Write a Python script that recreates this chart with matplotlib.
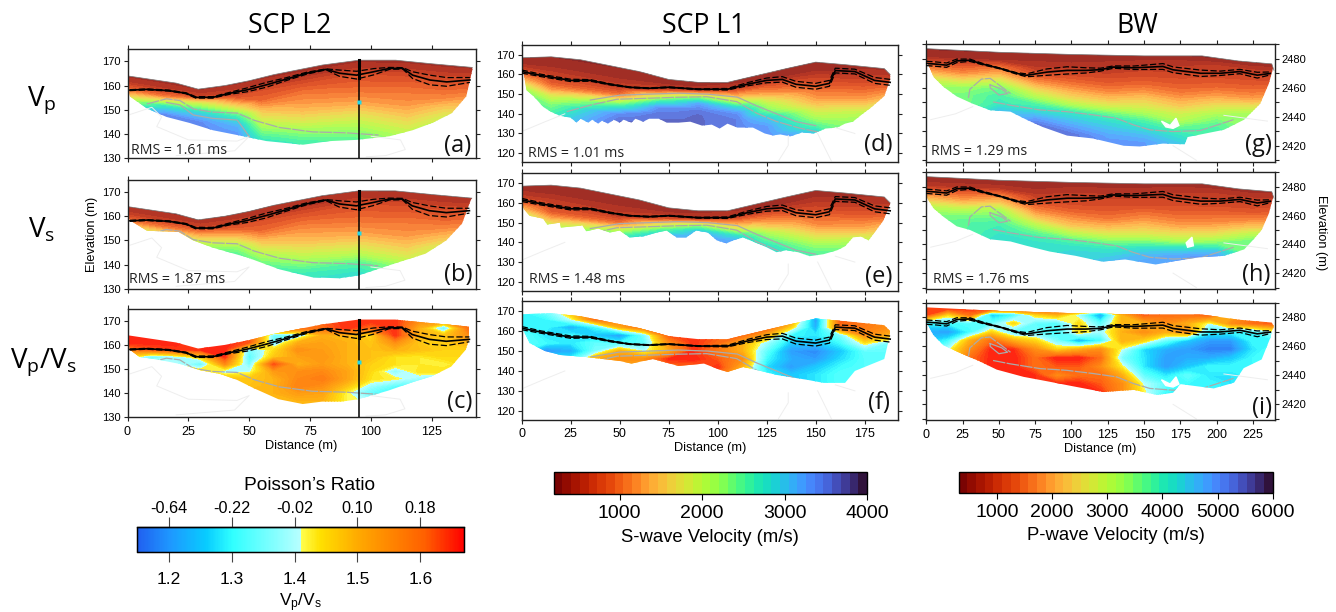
import numpy as np
import matplotlib
matplotlib.use('Agg')
import matplotlib.pyplot as plt
from matplotlib.cm import ScalarMappable
from matplotlib.colors import LinearSegmentedColormap, ListedColormap, Normalize
from matplotlib.patches import Polygon

W, H = 1336, 612
plt.rcParams['font.family'] = ['Liberation Sans', 'DejaVu Sans']
plt.rcParams['mathtext.default'] = 'regular'
LABEL_FONT = 'Open Sans'

# ---- SCP L2 ----
l2_xticks = [0, 25, 50, 75, 100, 125]
l2_yticks = [130, 140, 150, 160, 170]
l2_top_x = [0, 10, 20, 29, 40, 50, 60, 70, 80, 95, 110, 125, 141.5]
l2_top_y = [164, 162.5, 161, 158.5, 160, 162, 164.5, 166.5, 168.5, 170.5, 170.5, 169, 167.5]
a_bot_x = [141.5, 139, 133, 125, 117, 107.5, 94, 83, 72, 57, 45, 35, 25.5, 16, 8, 1, 0]
a_bot_y = [166.5, 155.5, 148.5, 144.5, 141.5, 139, 137.5, 137, 135.5, 137, 139.5, 141.5, 144.5, 147, 150.5, 155.5, 160]
b_bot_x = [141, 137.5, 131, 122.5, 110, 95, 87, 76, 62.5, 49, 35, 27, 21, 8, 1, 0]
b_bot_y = [166.5, 157, 150, 144.5, 140.5, 135.5, 134.3, 134.7, 138, 143, 147, 150, 153.5, 154, 158.3, 160]
c_bot_x = [141.5, 139, 133, 125, 117, 107, 95, 88, 80, 72, 62, 52, 45, 38, 30, 22, 12, 5, 1, 0]
c_bot_y = [166, 158, 151, 147, 144.5, 141, 137.5, 136.5, 136.5, 135.5, 137.5, 142, 145.5, 148, 149.5, 152, 154, 155, 158, 163]
l2_cols = [0, 15, 30, 45, 55, 72, 95, 115, 130, 142]
l2_surf = [164, 161.5, 158.5, 161, 163.5, 167, 170.5, 170, 168.5, 167.5]
l2_depth = [0, 3, 6, 10, 14, 18, 22, 26, 30, 36]
a_vel = [
    [550, 550, 550, 550, 550, 550, 550, 550, 550, 550],
    [800, 800, 900, 800, 750, 700, 750, 750, 750, 800],
    [1500, 1500, 2800, 1150, 1100, 1050, 1100, 1050, 1050, 1150],
    [3000, 4000, 4300, 2500, 1400, 1500, 1300, 1350, 1350, 1500],
    [4200, 5200, 5100, 3900, 2200, 1800, 1600, 1600, 1700, 2000],
    [4500, 5200, 5200, 4700, 2800, 2200, 1950, 1800, 2300, 2500],
    [4500, 5200, 5200, 5000, 3400, 2700, 2500, 2200, 2800, 3000],
    [4500, 5200, 5200, 5000, 4000, 3300, 2950, 2600, 3200, 3200],
    [4500, 5200, 5200, 5000, 4400, 3800, 3400, 3000, 3400, 3400],
    [4500, 5200, 5200, 5000, 4800, 4200, 4000, 3500, 3600, 3600],
]
b_vel = [
    [400, 400, 400, 400, 400, 400, 400, 400, 400, 400],
    [550, 550, 600, 550, 520, 480, 520, 520, 520, 550],
    [1000, 1000, 1200, 800, 750, 720, 750, 720, 720, 800],
    [1900, 2100, 2000, 1500, 950, 1000, 880, 900, 900, 1000],
    [2400, 2600, 2600, 2200, 1450, 1250, 1080, 1080, 1150, 1350],
    [2500, 2700, 2800, 2600, 1900, 1500, 1300, 1200, 1500, 1700],
    [2500, 2700, 2800, 2800, 2300, 1850, 1650, 1480, 1900, 2000],
    [2500, 2700, 2800, 2900, 2650, 2200, 2000, 1750, 2100, 2100],
    [2500, 2700, 2900, 3000, 2800, 2600, 2500, 2100, 2200, 2200],
    [2500, 2700, 2900, 3000, 3000, 2850, 2900, 2500, 2400, 2400],
]
c_cols = [0, 10, 20, 30, 40, 50, 60, 70, 80, 90, 100, 110, 120, 130, 140]
c_elev = [172, 170, 167, 164, 161, 158, 155, 152, 149, 146, 143, 140, 137, 134]
c_ratio = [
    [1.60, 1.60, 1.60, 1.60, 1.60, 1.60, 1.60, 1.60, 1.62, 1.65, 1.65, 1.65, 1.55, 1.55, 1.60],
    [1.60, 1.60, 1.60, 1.60, 1.60, 1.60, 1.60, 1.60, 1.62, 1.65, 1.65, 1.65, 1.55, 1.55, 1.60],
    [1.62, 1.62, 1.62, 1.62, 1.62, 1.62, 1.62, 1.60, 1.60, 1.65, 1.60, 1.65, 1.50, 1.33, 1.60],
    [1.66, 1.66, 1.66, 1.64, 1.64, 1.64, 1.35, 1.35, 1.50, 1.50, 1.45, 1.65, 1.50, 1.47, 1.55],
    [1.66, 1.66, 1.66, 1.62, 1.66, 1.62, 1.35, 1.50, 1.52, 1.50, 1.47, 1.55, 1.47, 1.47, 1.50],
    [1.58, 1.62, 1.64, 1.65, 1.66, 1.35, 1.44, 1.55, 1.53, 1.50, 1.48, 1.50, 1.48, 1.46, 1.46],
    [1.45, 1.33, 1.38, 1.45, 1.65, 1.32, 1.47, 1.52, 1.54, 1.50, 1.48, 1.44, 1.43, 1.45, 1.45],
    [1.45, 1.45, 1.40, 1.33, 1.55, 1.35, 1.63, 1.50, 1.53, 1.50, 1.46, 1.44, 1.43, 1.42, 1.45],
    [1.45, 1.45, 1.50, 1.45, 1.38, 1.40, 1.53, 1.55, 1.56, 1.52, 1.45, 1.37, 1.44, 1.44, 1.45],
    [1.45, 1.45, 1.50, 1.48, 1.48, 1.47, 1.50, 1.56, 1.58, 1.52, 1.44, 1.42, 1.38, 1.33, 1.40],
    [1.45, 1.45, 1.50, 1.48, 1.48, 1.48, 1.50, 1.57, 1.55, 1.48, 1.38, 1.33, 1.32, 1.35, 1.40],
    [1.45, 1.45, 1.50, 1.48, 1.48, 1.50, 1.50, 1.53, 1.52, 1.42, 1.33, 1.33, 1.35, 1.35, 1.40],
    [1.45, 1.45, 1.50, 1.48, 1.48, 1.50, 1.50, 1.50, 1.50, 1.42, 1.40, 1.35, 1.35, 1.35, 1.40],
    [1.45, 1.45, 1.50, 1.48, 1.48, 1.50, 1.50, 1.50, 1.50, 1.42, 1.40, 1.35, 1.35, 1.35, 1.40],
]
l2_line_x = [1, 8, 17, 24, 28, 35, 42, 49, 57, 65, 73.5, 81.5, 87, 94, 101, 107.5, 113, 117, 124, 131, 140.5]
l2_line_y = [158.1, 158.4, 157.9, 156.8, 155.1, 155.1, 156.8, 158.2, 160.3, 162.6, 165.1, 166.7, 165.1, 164.3, 165.7, 167.1, 167.1, 164.3, 162.3, 161.5, 162.3]
l2_spread = [0.2, 0.2, 0.2, 0.2, 0.3, 0.3, 0.4, 0.8, 1, 0.6, 0.4, 0.2, 1.3, 1.6, 1.3, 0.4, 0.3, 1.4, 2, 1.8, 1]
l2_grey1_x = [8, 16, 21.5, 27, 35, 45, 52, 62.5, 76, 90, 103]
l2_grey1_y = [152.4, 154.5, 153.8, 150.3, 149, 148.6, 145.6, 142.6, 140.8, 140.4, 139.5]
l2_grey2_x = [16, 21.5, 27, 35, 45, 47.5, 50]
l2_grey2_y = [153, 152, 147.8, 146.4, 145.7, 142.3, 138.8]
l2_faint_x = [1, 10, 14, 12, 25, 45, 50, 44, 20, None, 100, 112, 114, 106, 98]
l2_faint_y = [148, 151, 147, 143, 137.5, 137, 139, 133, 131, None, 139, 137.5, 133.5, 131, 130.5]
l2_well = 95
l2_well_top = 170.5
l2_well_mid = 163
l2_marker = 153

# ---- SCP L1 ----
l1_xticks = [0, 25, 50, 75, 100, 125, 150, 175]
l1_yticks = [120, 130, 140, 150, 160, 170]
l1_top_x = [0, 15, 30, 45, 60, 75, 90, 105, 120, 135, 150, 165, 185, 188]
l1_top_y = [168.5, 169, 167.5, 164.5, 161.5, 157.5, 156, 156, 159.5, 163, 166.3, 165, 163, 160]
d_bot_x = [188, 185, 178, 174, 169, 165, 161, 155, 149, 143, 137, 132, 128, 124, 118, 110, 105, 101, 97, 92, 86, 80, 74, 70, 65, 62, 58, 56, 52, 50, 47, 44, 41, 39, 36, 34, 30, 28, 25, 19.5, 15, 11, 6, 2.5, 1, 0]
d_bot_y = [157.5, 149, 143, 140, 136, 135, 133, 132.5, 130, 130.5, 128.5, 129.5, 129, 130, 133, 133, 135, 132.5, 134.5, 134, 136, 135.5, 135.5, 137.5, 137.5, 136, 137.5, 135.5, 137, 135.5, 137, 135, 136.5, 135, 137, 135.5, 137.5, 135.5, 138, 139, 141, 143.5, 149, 152, 160.5, 165]
e_bot_x = [188, 184.5, 177, 173, 169, 165, 161, 154, 147, 141, 135, 130, 125, 119, 113, 108, 104.5, 99.5, 95, 89, 84, 79, 74, 69, 62, 55, 50, 45, 39, 33, 31, 25, 20, 19.5, 13, 11, 4, 1, 0]
e_bot_y = [159.5, 151, 141, 143, 142.5, 138, 136, 134, 133, 135, 136, 135, 137.5, 140, 142.5, 141, 139.5, 141, 145, 146, 142.5, 142.5, 146, 145, 143, 142.5, 146, 145, 147, 145.6, 148.5, 148, 147.5, 150, 149, 152, 153.5, 157, 160]
f_bot_x = [187.5, 185, 170, 165, 158, 154, 146, 130, 122, 113, 105, 100, 93, 80, 67, 56, 50, 33, 20, 12, 4, 1, 0]
f_bot_y = [156.5, 146, 140, 134, 134, 134, 135.5, 138, 140, 142, 139.5, 141, 143.7, 142.5, 146, 143.7, 145, 147, 148, 150, 154, 160, 163]
l1_cols = [0, 15, 50, 70, 90, 110, 125, 150, 175, 188]
l1_surf = [168.5, 169, 163.5, 160, 156, 157, 161.5, 166.3, 164, 162]
l1_depth = [0, 4, 8, 11, 14, 17, 20, 24, 28, 32, 38]
d_vel = [
    [450, 450, 450, 450, 450, 450, 450, 450, 550, 600],
    [650, 520, 500, 520, 750, 850, 550, 560, 750, 850],
    [1250, 800, 750, 1050, 3500, 2000, 1300, 900, 1050, 1300],
    [2000, 1050, 950, 2700, 4800, 3000, 1800, 1150, 1300, 1700],
    [2800, 1300, 1500, 4000, 5200, 4300, 2500, 1450, 1600, 2100],
    [3500, 1900, 2900, 5000, 5400, 5000, 3100, 1700, 1900, 2600],
    [3900, 2700, 4000, 5300, 5400, 5200, 3500, 2000, 2400, 3000],
    [4000, 3400, 5100, 5400, 5400, 5200, 4500, 2600, 3000, 3300],
    [4200, 3800, 5400, 5400, 5400, 5200, 4900, 3100, 3300, 3300],
    [4400, 4200, 5400, 5400, 5400, 5200, 5000, 3700, 3400, 3400],
    [4400, 4400, 5400, 5400, 5400, 5200, 5000, 4700, 3400, 3400],
]
e_vel = [
    [350, 350, 350, 350, 350, 350, 350, 350, 380, 420],
    [450, 380, 370, 380, 500, 550, 400, 420, 500, 560],
    [800, 550, 500, 680, 2300, 1300, 850, 600, 700, 850],
    [1300, 700, 620, 1700, 3100, 2000, 1200, 780, 860, 1100],
    [1800, 850, 1000, 2500, 3300, 2800, 1600, 960, 1100, 1400],
    [2300, 1300, 1900, 3100, 3400, 3200, 2100, 1100, 1300, 1700],
    [2500, 1800, 2500, 3300, 3400, 3300, 2400, 1400, 1650, 2000],
    [2600, 2300, 3000, 3400, 3400, 3300, 2800, 1800, 2100, 2200],
    [2600, 2500, 3200, 3400, 3400, 3300, 3000, 2200, 2400, 2400],
    [2600, 2600, 3200, 3400, 3400, 3300, 3100, 2500, 2500, 2500],
    [2600, 2600, 3200, 3400, 3400, 3300, 3100, 2800, 2500, 2500],
]
f_cols = [0, 12.5, 25, 37.5, 50, 62.5, 75, 87.5, 100, 112.5, 125, 137.5, 150, 162.5, 175, 187.5]
f_elev = [172, 170, 166, 162, 158, 154, 150, 146, 142, 138, 134, 130]
f_ratio = [
    [1.30, 1.30, 1.50, 1.60, 1.60, 1.60, 1.60, 1.60, 1.60, 1.60, 1.60, 1.60, 1.60, 1.60, 1.60, 1.55],
    [1.30, 1.35, 1.50, 1.60, 1.60, 1.60, 1.60, 1.60, 1.60, 1.60, 1.60, 1.60, 1.60, 1.60, 1.60, 1.55],
    [1.30, 1.30, 1.40, 1.60, 1.60, 1.60, 1.60, 1.60, 1.60, 1.60, 1.60, 1.55, 1.20, 1.62, 1.60, 1.55],
    [1.30, 1.30, 1.22, 1.30, 1.50, 1.60, 1.60, 1.65, 1.60, 1.60, 1.62, 1.45, 1.22, 1.60, 1.58, 1.55],
    [1.33, 1.28, 1.30, 1.25, 1.20, 1.35, 1.62, 1.65, 1.62, 1.60, 1.50, 1.30, 1.28, 1.35, 1.55, 1.50],
    [1.33, 1.30, 1.28, 1.33, 1.30, 1.33, 1.55, 1.65, 1.60, 1.50, 1.38, 1.25, 1.25, 1.30, 1.43, 1.35],
    [1.30, 1.18, 1.22, 1.35, 1.50, 1.40, 1.50, 1.65, 1.58, 1.50, 1.33, 1.20, 1.18, 1.25, 1.33, 1.33],
    [1.30, 1.30, 1.30, 1.50, 1.55, 1.55, 1.65, 1.66, 1.62, 1.55, 1.30, 1.22, 1.20, 1.27, 1.32, 1.33],
    [1.30, 1.30, 1.30, 1.50, 1.50, 1.50, 1.60, 1.60, 1.65, 1.50, 1.27, 1.20, 1.25, 1.30, 1.32, 1.33],
    [1.30, 1.30, 1.30, 1.50, 1.50, 1.50, 1.60, 1.60, 1.60, 1.45, 1.30, 1.25, 1.28, 1.32, 1.32, 1.33],
    [1.30, 1.30, 1.30, 1.50, 1.50, 1.50, 1.60, 1.60, 1.60, 1.45, 1.30, 1.25, 1.28, 1.32, 1.32, 1.33],
    [1.30, 1.30, 1.30, 1.50, 1.50, 1.50, 1.60, 1.60, 1.60, 1.45, 1.30, 1.25, 1.28, 1.32, 1.32, 1.33],
]
l1_line_x = [0, 10, 25, 35, 45, 55, 65, 75, 90, 105, 115, 125, 133, 140, 150, 157, 160, 170, 180, 188]
l1_line_y = [161.5, 159.5, 157, 157, 155, 153.5, 153, 153.5, 152.5, 152.5, 155, 157, 157.5, 155, 154, 155.5, 162, 161.5, 157, 156]
l1_spread = [0.8, 0.6, 0.6, 0.4, 0.3, 0.2, 0.2, 0.2, 0.2, 0.4, 0.8, 1.2, 1.4, 1.5, 1.5, 1.5, 1.2, 1.2, 1.5, 1.5]
l1_grey1_x = [23, 35.4, 48.5, 63.8, 79, 94.4, 109.7, 119.9, 130, 142, 153.9]
l1_grey1_y = [141.1, 144.5, 147.4, 147.9, 148.4, 148.7, 146.2, 140.3, 136.1, 132.7, 130.2]
l1_grey2_x = [35, 50, 65, 80, 95, 110, 120, 130, 140, 150]
l1_grey2_y = [147, 149.5, 150, 150.5, 150, 148.5, 144, 140, 136, 134]
l1_faint_x = [0, 12, 22, None, 136, 136, 131, None, 151, 155, 158, None, 160, 170]
l1_faint_y = [131, 136, 140, None, 129, 124, 116, None, 130, 122, 116, None, 133, 130]

# ---- BW ----
bw_xticks = [0, 25, 50, 75, 100, 125, 150, 175, 200, 225]
bw_yticks = [2410, 2420, 2430, 2440, 2450, 2460, 2470, 2480, 2490]
bw_ylabels = ['', '2420', '', '2440', '', '2460', '', '2480', '']
bw_top_x = [0, 50, 100, 150, 190, 215, 238, 239.5]
bw_top_y = [2487, 2484.5, 2483, 2482, 2482, 2478.5, 2476.5, 2472]
g_bot_x = [239, 236, 230, 219, 205, 180, 178, 163, 147, 136, 115, 97, 80, 69, 58, 44, 32, 21, 12, 5, 0]
g_bot_y = [2474, 2463, 2449, 2438, 2431, 2426, 2421, 2421.5, 2419.5, 2420, 2425, 2427, 2433, 2438, 2443.5, 2444.5, 2449, 2454, 2460.5, 2467.5, 2479]
h_bot_x = [239, 236, 231, 225, 219, 205, 188, 172, 158, 137, 121, 103, 85, 69, 58, 44, 30, 21, 12, 5, 0]
h_bot_y = [2473, 2461.5, 2450, 2443, 2436.5, 2432, 2431, 2428.5, 2426, 2429.5, 2428, 2432, 2435, 2439, 2442, 2443.5, 2450, 2452.5, 2459, 2465, 2473]
i_bot_x = [239, 237, 231, 218.6, 212, 198, 175, 170, 159, 143, 122, 101, 83, 67, 48.5, 37, 21, 11.7, 4.8, 0]
i_bot_y = [2475, 2466, 2451, 2445, 2435, 2431, 2434, 2428, 2426.5, 2430, 2428.5, 2432.5, 2436, 2439, 2444, 2449.6, 2456.5, 2461, 2468, 2477]
g_hole_x = [162, 168, 172, 174, 170, 165]
g_hole_y = [2437, 2434, 2439, 2434, 2432, 2433]
h_hole_x = [179, 183, 184, 180]
h_hole_y = [2441, 2445, 2439, 2438]
bw_cols = [0, 25, 50, 75, 100, 125, 150, 175, 200, 225, 240]
bw_surf = [2486, 2485, 2484, 2483.5, 2482.5, 2482, 2482, 2482, 2480, 2477, 2476]
bw_depth = [0, 5, 10, 15, 20, 25, 30, 35, 40, 45, 50, 55, 60, 70]
g_vel = [
    [450, 450, 450, 450, 450, 450, 450, 450, 450, 450, 500],
    [600, 600, 600, 600, 600, 650, 700, 700, 800, 800, 800],
    [1300, 1200, 1500, 800, 800, 800, 900, 850, 950, 1000, 1000],
    [2000, 1700, 2100, 1200, 1100, 1050, 1100, 1050, 1150, 1200, 1300],
    [2800, 2500, 2900, 1800, 1500, 1300, 1400, 1250, 1400, 1500, 1700],
    [3300, 3300, 3600, 2500, 2000, 1700, 1800, 1500, 1800, 1900, 2200],
    [3500, 3500, 3900, 3100, 2500, 2200, 2300, 1900, 2300, 2600, 2800],
    [3500, 3500, 4000, 3800, 3200, 2800, 2700, 2300, 2800, 3200, 3200],
    [3500, 3500, 4500, 4300, 4100, 3600, 3200, 2800, 3300, 3400, 3400],
    [3500, 3500, 4700, 4900, 4500, 4200, 3800, 3100, 3700, 3400, 3400],
    [3500, 3500, 4800, 5400, 4900, 4500, 4200, 3700, 3900, 3400, 3400],
    [3500, 3500, 4800, 5400, 5300, 4800, 4600, 4100, 3900, 3400, 3400],
    [3500, 3500, 4800, 5400, 5300, 5000, 4900, 4400, 3900, 3400, 3400],
    [3500, 3500, 4800, 5400, 5300, 5000, 5000, 4500, 3900, 3400, 3400],
]
h_vel = [
    [350, 350, 350, 350, 350, 350, 350, 350, 350, 350, 380],
    [450, 450, 450, 400, 450, 450, 450, 480, 520, 520, 550],
    [1000, 900, 1050, 550, 600, 600, 600, 600, 600, 650, 700],
    [1500, 1300, 1500, 800, 700, 700, 700, 700, 750, 800, 900],
    [2000, 1900, 2100, 1100, 900, 850, 950, 850, 950, 1100, 1200],
    [2300, 2300, 2400, 1500, 1200, 1050, 1200, 1050, 1150, 1500, 1600],
    [2400, 2500, 2600, 2000, 1500, 1400, 1500, 1300, 1500, 2000, 2000],
    [2400, 2500, 2700, 2400, 2000, 1800, 1800, 1700, 1900, 2400, 2400],
    [2400, 2500, 2800, 2700, 2500, 2300, 2300, 2100, 2400, 2400, 2400],
    [2400, 2500, 2800, 2800, 2800, 2700, 2800, 2800, 3000, 2400, 2400],
    [2400, 2500, 2800, 2800, 2900, 2900, 3100, 3200, 3400, 2400, 2400],
    [2400, 2500, 2800, 2800, 2900, 3100, 3200, 3300, 3400, 2400, 2400],
    [2400, 2500, 2800, 2800, 2900, 3100, 3200, 3300, 3400, 2400, 2400],
    [2400, 2500, 2800, 2800, 2900, 3100, 3200, 3300, 3400, 2400, 2400],
]
i_cols = [0, 15, 30, 45, 60, 75, 90, 105, 120, 135, 150, 165, 180, 195, 210, 225, 240]
i_elev = [2490, 2486, 2482, 2476, 2470, 2464, 2458, 2452, 2446, 2440, 2434, 2428, 2422, 2416]
i_ratio = [
    [1.64] * 17,
    [1.64] * 17,
    [1.64, 1.45, 1.60, 1.25, 1.30, 1.45, 1.50, 1.38, 1.20, 1.50, 1.62, 1.60, 1.60, 1.62, 1.50, 1.60, 1.60],
    [1.30, 1.30, 1.32, 1.33, 1.45, 1.33, 1.32, 1.45, 1.32, 1.50, 1.50, 1.55, 1.50, 1.40, 1.55, 1.60, 1.62],
    [1.22, 1.20, 1.30, 1.45, 1.33, 1.34, 1.30, 1.45, 1.38, 1.50, 1.55, 1.50, 1.55, 1.30, 1.30, 1.30, 1.40],
    [1.25, 1.30, 1.50, 1.60, 1.50, 1.45, 1.35, 1.22, 1.30, 1.50, 1.45, 1.33, 1.25, 1.20, 1.20, 1.30, 1.30],
    [1.30, 1.40, 1.55, 1.66, 1.65, 1.55, 1.45, 1.50, 1.55, 1.40, 1.27, 1.22, 1.20, 1.17, 1.17, 1.28, 1.32],
    [1.30, 1.40, 1.60, 1.66, 1.66, 1.60, 1.66, 1.66, 1.60, 1.35, 1.28, 1.20, 1.22, 1.22, 1.25, 1.30, 1.32],
    [1.30, 1.40, 1.60, 1.66, 1.66, 1.60, 1.62, 1.62, 1.55, 1.42, 1.28, 1.20, 1.25, 1.30, 1.30, 1.30, 1.32],
    [1.30, 1.40, 1.60, 1.66, 1.66, 1.65, 1.55, 1.60, 1.60, 1.50, 1.33, 1.28, 1.33, 1.28, 1.28, 1.30, 1.32],
    [1.30, 1.40, 1.60, 1.66, 1.66, 1.65, 1.66, 1.66, 1.62, 1.55, 1.40, 1.33, 1.30, 1.30, 1.28, 1.30, 1.32],
    [1.30, 1.40, 1.60, 1.66, 1.66, 1.65, 1.66, 1.66, 1.65, 1.55, 1.42, 1.30, 1.30, 1.30, 1.28, 1.30, 1.32],
    [1.30, 1.40, 1.60, 1.66, 1.66, 1.65, 1.66, 1.66, 1.65, 1.55, 1.42, 1.30, 1.30, 1.30, 1.28, 1.30, 1.32],
    [1.30, 1.40, 1.60, 1.66, 1.66, 1.65, 1.66, 1.66, 1.65, 1.55, 1.42, 1.30, 1.30, 1.30, 1.28, 1.30, 1.32],
]
bw_line_x = [0, 7, 14, 21, 30, 39, 51, 62, 69, 83, 97, 110, 120, 129, 143, 163, 170, 189, 202.5, 216, 228, 237]
bw_line_y = [2476.8, 2476.3, 2475.6, 2478.6, 2479, 2476.3, 2473.3, 2470, 2468.6, 2470.8, 2472, 2472, 2472.5, 2474.3, 2473.8, 2474.7, 2472.4, 2470, 2470, 2471.2, 2468.7, 2469.9]
bw_spread = [1.5, 1.5, 1.5, 1.2, 0.8, 0.5, 0.3, 0.5, 1, 2.2, 2.5, 1.8, 1, 0.8, 1.2, 2, 2, 2.2, 1.5, 1.5, 2, 1]
bw_grey1_x = [29, 30, 38, 44, 50, 58, None, 46, 57.7, 78.4, 96.8, 115, 131, 142.7, 154, 170, 188.7, 211.7]
bw_grey1_y = [2453, 2459, 2466, 2466.5, 2462, 2456, None, 2450.3, 2448, 2444.7, 2443.5, 2441.3, 2439, 2434.4, 2431, 2429.8, 2430.5, 2438]
bw_grey2_x = [44, 52, 56, 50, 44, 44]
bw_grey2_y = [2462, 2459, 2456, 2455, 2460, 2462]
bw_faint_x = [3, 20, 32, None, 170, 178, 186, None, 205, 235]
bw_faint_y = [2438, 2442, 2447, None, 2420, 2415, 2410, None, 2441, 2437]

# ---- colour scales ----
vs_range = (200, 4000)
vp_range = (300, 6000)
ratio_range = (1.15, 1.67)
vs_ticks = [1000, 2000, 3000, 4000]
vp_ticks = [1000, 2000, 3000, 4000, 5000, 6000]
ratio_ticks = [1.2, 1.3, 1.4, 1.5, 1.6]
poisson_labels = ['-0.64', '-0.22', '-0.02', '0.10', '0.18']
ratio_stops = [(0.0, '#2060f0'), (0.1, '#1e98ff'), (0.21, '#08ccff'), (0.29, '#30ffff'),
               (0.5, '#b8ffff'), (0.5, '#ffff50'), (0.56, '#ffe000'), (0.68, '#ffa800'),
               (0.88, '#ff6000'), (1.0, '#ff0000')]
ratio_cmap = LinearSegmentedColormap.from_list('ratio', ratio_stops, N=256)
turbo = plt.get_cmap('turbo_r', 36)


def washed(cmap, n, amount):
    # the model cells are speckled with white in the original, so fields look paler than the bars
    rgb = cmap(np.linspace(0, 1, n))[:, :3]
    return ListedColormap(rgb * (1 - amount) + amount)


field_velocity = washed(turbo, 36, 0.14)
field_ratio = washed(ratio_cmap, 256, 0.07)

fig = plt.figure(figsize=(W / 100, H / 100), dpi=100)


def px_axes(left, right, top, bottom):
    return fig.add_axes([left / W, 1 - bottom / H, (right - left) / W, (bottom - top) / H])


def px_text(x, y, s, **kw):
    kw.setdefault('ha', 'center')
    kw.setdefault('va', 'center')
    fig.text(x / W, 1 - y / H, s, **kw)


def style_axes(ax, xlim, ylim, xticks, yticks, show_x=False, right=False, ylabels=None):
    ax.set_xlim(*xlim)
    ax.set_ylim(*ylim)
    ax.set_xticks(xticks)
    ax.set_yticks(yticks)
    ax.tick_params(axis='both', which='both', direction='out', length=3, width=0.8,
                   top=True, right=True, color='#222222', pad=2)
    ax.tick_params(axis='y', labelsize=8, labelleft=not right, labelright=right)
    ax.tick_params(axis='x', labelsize=9, labelbottom=show_x, pad=3)
    if ylabels is not None:
        ax.set_yticklabels(ylabels)
    if show_x:
        ax.set_xlabel('Distance (m)', fontsize=9.2, labelpad=1.5)
    for sp in ax.spines.values():
        sp.set_linewidth(1.0)
        sp.set_color('#222222')


def outline(ax, top_x, top_y, bot_x, bot_y):
    verts = np.column_stack([list(top_x) + list(bot_x), list(top_y) + list(bot_y)])
    poly = Polygon(verts, closed=True, fc='none', ec='none', transform=ax.transData)
    ax.add_patch(poly)
    return poly


def draw_velocity(ax, cols, surf, depth, vel, vrange, top_x, top_y, bot_x, bot_y):
    # field follows the topography: rows are depth below surface
    d = np.array(depth, float)
    X = np.tile(cols, (len(d) + 1, 1)).astype(float)
    Y = np.array(surf, float) - np.r_[-6.0, d][:, None]
    Z = np.vstack([vel[0], vel]).astype(float)
    levels = np.linspace(vrange[0], vrange[1], 37)
    cs = ax.contourf(X, Y, Z, levels=levels, cmap=field_velocity, vmin=vrange[0], vmax=vrange[1], zorder=1)
    poly = outline(ax, top_x, top_y, bot_x, bot_y)
    cs.set_clip_path(poly)
    ax.plot(top_x, top_y, color='#777777', lw=0.5, zorder=2)
    return poly


def draw_ratio(ax, cols, elev, ratio, top_x, top_y, bot_x, bot_y):
    levels = np.arange(1.15, 1.675, 0.01)
    cs = ax.contourf(cols, elev, ratio, levels=levels, cmap=field_ratio,
                     vmin=ratio_range[0], vmax=ratio_range[1], zorder=1, extend='both')
    poly = outline(ax, top_x, top_y, bot_x, bot_y)
    cs.set_clip_path(poly)
    return poly


def draw_lines(ax, poly, line_x, line_y, spread, g1x, g1y, g2x, g2y, fx, fy):
    ly = np.array(line_y)
    sp = np.array(spread)
    ax.plot(fx, fy, color='#eeeeee', lw=0.7, zorder=1)
    ax.plot(g1x, g1y, color='#ababab', lw=0.9, ls=(0, (10, 1)), zorder=3)[0].set_clip_path(poly)
    if g2x is not None:
        ax.plot(g2x, g2y, color='#ababab', lw=0.9, zorder=3)[0].set_clip_path(poly)
    ax.plot(line_x, ly, color='black', lw=1.2, zorder=4)
    ax.plot(line_x, ly + sp, color='black', lw=0.9, ls=(0, (5, 2)), zorder=4)
    ax.plot(line_x, ly - sp, color='black', lw=0.9, ls=(0, (5, 2)), zorder=4)


def draw_well(ax):
    ax.plot([l2_well, l2_well], [l2_well_top, l2_well_mid], color='black', lw=2.2, zorder=5)
    ax.plot([l2_well, l2_well], [l2_well_mid, 130], color='black', lw=1.1, zorder=5)
    ax.plot([l2_well], [l2_marker], marker='s', ms=2.4, color='#20d8e8', mec='none', zorder=6)


# SCP L2 column
l2_xlim, l2_ylim = (0, 143), (130, 175)
ax_a = px_axes(127.5, 476, 49.3, 158)
pa = draw_velocity(ax_a, l2_cols, l2_surf, l2_depth, a_vel, vp_range, l2_top_x, l2_top_y, a_bot_x, a_bot_y)
ax_b = px_axes(127.5, 475.5, 180, 288.7)
pb = draw_velocity(ax_b, l2_cols, l2_surf, l2_depth, b_vel, vs_range, l2_top_x, l2_top_y, b_bot_x, b_bot_y)
ax_c = px_axes(127.5, 475.5, 308.7, 417.3)
pc = draw_ratio(ax_c, c_cols, c_elev, c_ratio, l2_top_x, l2_top_y, c_bot_x, c_bot_y)
for ax, poly, show in [(ax_a, pa, False), (ax_b, pb, False), (ax_c, pc, True)]:
    style_axes(ax, l2_xlim, l2_ylim, l2_xticks, l2_yticks, show_x=show)
    g2x, g2y = (l2_grey2_x, l2_grey2_y) if ax is ax_a else (None, None)
    draw_lines(ax, poly, l2_line_x, l2_line_y, l2_spread, l2_grey1_x, l2_grey1_y, g2x, g2y,
               l2_faint_x, l2_faint_y)
    draw_well(ax)
ax_b.set_ylabel('Elevation (m)', fontsize=9.2, labelpad=3)

# SCP L1 column
l1_xlim, l1_ylim = (0, 192), (115.5, 175)
ax_d = px_axes(521.7, 898, 45, 162)
pd_ = draw_velocity(ax_d, l1_cols, l1_surf, l1_depth, d_vel, vp_range, l1_top_x, l1_top_y, d_bot_x, d_bot_y)
ax_e = px_axes(521.7, 898, 173.3, 290.7)
pe = draw_velocity(ax_e, l1_cols, l1_surf, l1_depth, e_vel, vs_range, l1_top_x, l1_top_y, e_bot_x, e_bot_y)
ax_f = px_axes(521.7, 898, 301.3, 419.7)
pf = draw_ratio(ax_f, f_cols, f_elev, f_ratio, l1_top_x, l1_top_y, f_bot_x, f_bot_y)
for ax, poly, show in [(ax_d, pd_, False), (ax_e, pe, False), (ax_f, pf, True)]:
    style_axes(ax, l1_xlim, l1_ylim, l1_xticks, l1_yticks, show_x=show)
    draw_lines(ax, poly, l1_line_x, l1_line_y, l1_spread, l1_grey1_x, l1_grey1_y, l1_grey2_x, l1_grey2_y,
               l1_faint_x, l1_faint_y)

# BW column
bw_xlim, bw_ylim = (0, 240), (2409, 2490)
ax_g = px_axes(926.3, 1274.7, 44.3, 161.7)
pg = draw_velocity(ax_g, bw_cols, bw_surf, bw_depth, g_vel, vp_range, bw_top_x, bw_top_y, g_bot_x, g_bot_y)
ax_g.fill(g_hole_x, g_hole_y, color='white', zorder=2)
ax_h = px_axes(926.3, 1274.7, 172.3, 289)
ph = draw_velocity(ax_h, bw_cols, bw_surf, bw_depth, h_vel, vs_range, bw_top_x, bw_top_y, h_bot_x, h_bot_y)
ax_h.fill(h_hole_x, h_hole_y, color='white', zorder=2)
ax_i = px_axes(926.3, 1274.7, 303, 420.3)
pi_ = draw_ratio(ax_i, i_cols, i_elev, i_ratio, bw_top_x, bw_top_y, i_bot_x, i_bot_y)
ax_i.fill(g_hole_x, g_hole_y, color='white', zorder=2)
for ax, poly, show in [(ax_g, pg, False), (ax_h, ph, False), (ax_i, pi_, True)]:
    style_axes(ax, bw_xlim, bw_ylim, bw_xticks, bw_yticks, show_x=show, right=True, ylabels=bw_ylabels)
    draw_lines(ax, poly, bw_line_x, bw_line_y, bw_spread, bw_grey1_x, bw_grey1_y, bw_grey2_x, bw_grey2_y,
               bw_faint_x, bw_faint_y)
px_text(1321, 233, 'Elevation (m)', fontsize=9.2, rotation=270)

# panel annotations
for x, y, s in [(130.7, 150, 'RMS = 1.61 ms'), (129, 279.3, 'RMS = 1.87 ms'),
                (528.3, 153.3, 'RMS = 1.01 ms'), (529.3, 280, 'RMS = 1.48 ms'),
                (931, 151.7, 'RMS = 1.29 ms'), (933.3, 280, 'RMS = 1.76 ms')]:
    px_text(x, y, s, ha='left', fontsize=10.2, family=LABEL_FONT, color='#222222')
for x, y, s in [(471, 146, '(a)'), (472.7, 275, '(b)'), (472.7, 402, '(c)'),
                (892.7, 145, '(d)'), (892.7, 277, '(e)'), (890, 403, '(f)'),
                (1271.7, 145, '(g)'), (1270, 275, '(h)'), (1271.7, 407.7, '(i)')]:
    px_text(x, y, s, ha='right', fontsize=17, family=LABEL_FONT, color='#111111')

# titles and row labels
for x, s in [(290, 'SCP L2'), (704, 'SCP L1'), (1137, 'BW')]:
    px_text(x, 26, s, fontsize=19.2, family=LABEL_FONT)
px_text(42, 100, '$V_p$', fontsize=20, family=LABEL_FONT)
px_text(42, 230, '$V_s$', fontsize=20, family=LABEL_FONT)
px_text(43, 362, '$V_p/V_s$', fontsize=20, family=LABEL_FONT)

# colour bars
cax = px_axes(137.3, 464.3, 527.3, 552.3)
cb = fig.colorbar(ScalarMappable(Normalize(*ratio_range), ratio_cmap), cax=cax, orientation='horizontal')
cb.set_ticks(ratio_ticks)
cb.ax.tick_params(labelsize=12.5, length=7, width=0.8, color='#444444', pad=7)
cb.set_label('$V_p/V_s$', fontsize=12.5, labelpad=3)
cb.outline.set_linewidth(1)
top = cax.twiny()
top.set_xlim(*ratio_range)
top.set_xticks(ratio_ticks)
top.set_xticklabels(poisson_labels)
top.tick_params(labelsize=11.7, length=7, width=0.8, color='#444444', pad=1)
top.spines['top'].set_linewidth(1)
px_text(310, 485, "Poisson\u2019s Ratio", fontsize=13.8)

for box, vrange, ticks, label, lpad in [((553.7, 867, 472.3, 494.3), vs_range, vs_ticks, 'S-wave Velocity (m/s)', 5),
                                        ((958.5, 1272.7, 472.3, 493.3), vp_range, vp_ticks, 'P-wave Velocity (m/s)', 4)]:
    cax = px_axes(*box)
    cb = fig.colorbar(ScalarMappable(Normalize(*vrange), turbo), cax=cax, orientation='horizontal')
    cb.set_ticks(ticks)
    cb.ax.tick_params(labelsize=14, length=4, width=0.8, pad=4)
    cb.set_label(label, fontsize=13.3, labelpad=lpad)
    cb.outline.set_linewidth(1)

fig.savefig('out.png', dpi=100)
